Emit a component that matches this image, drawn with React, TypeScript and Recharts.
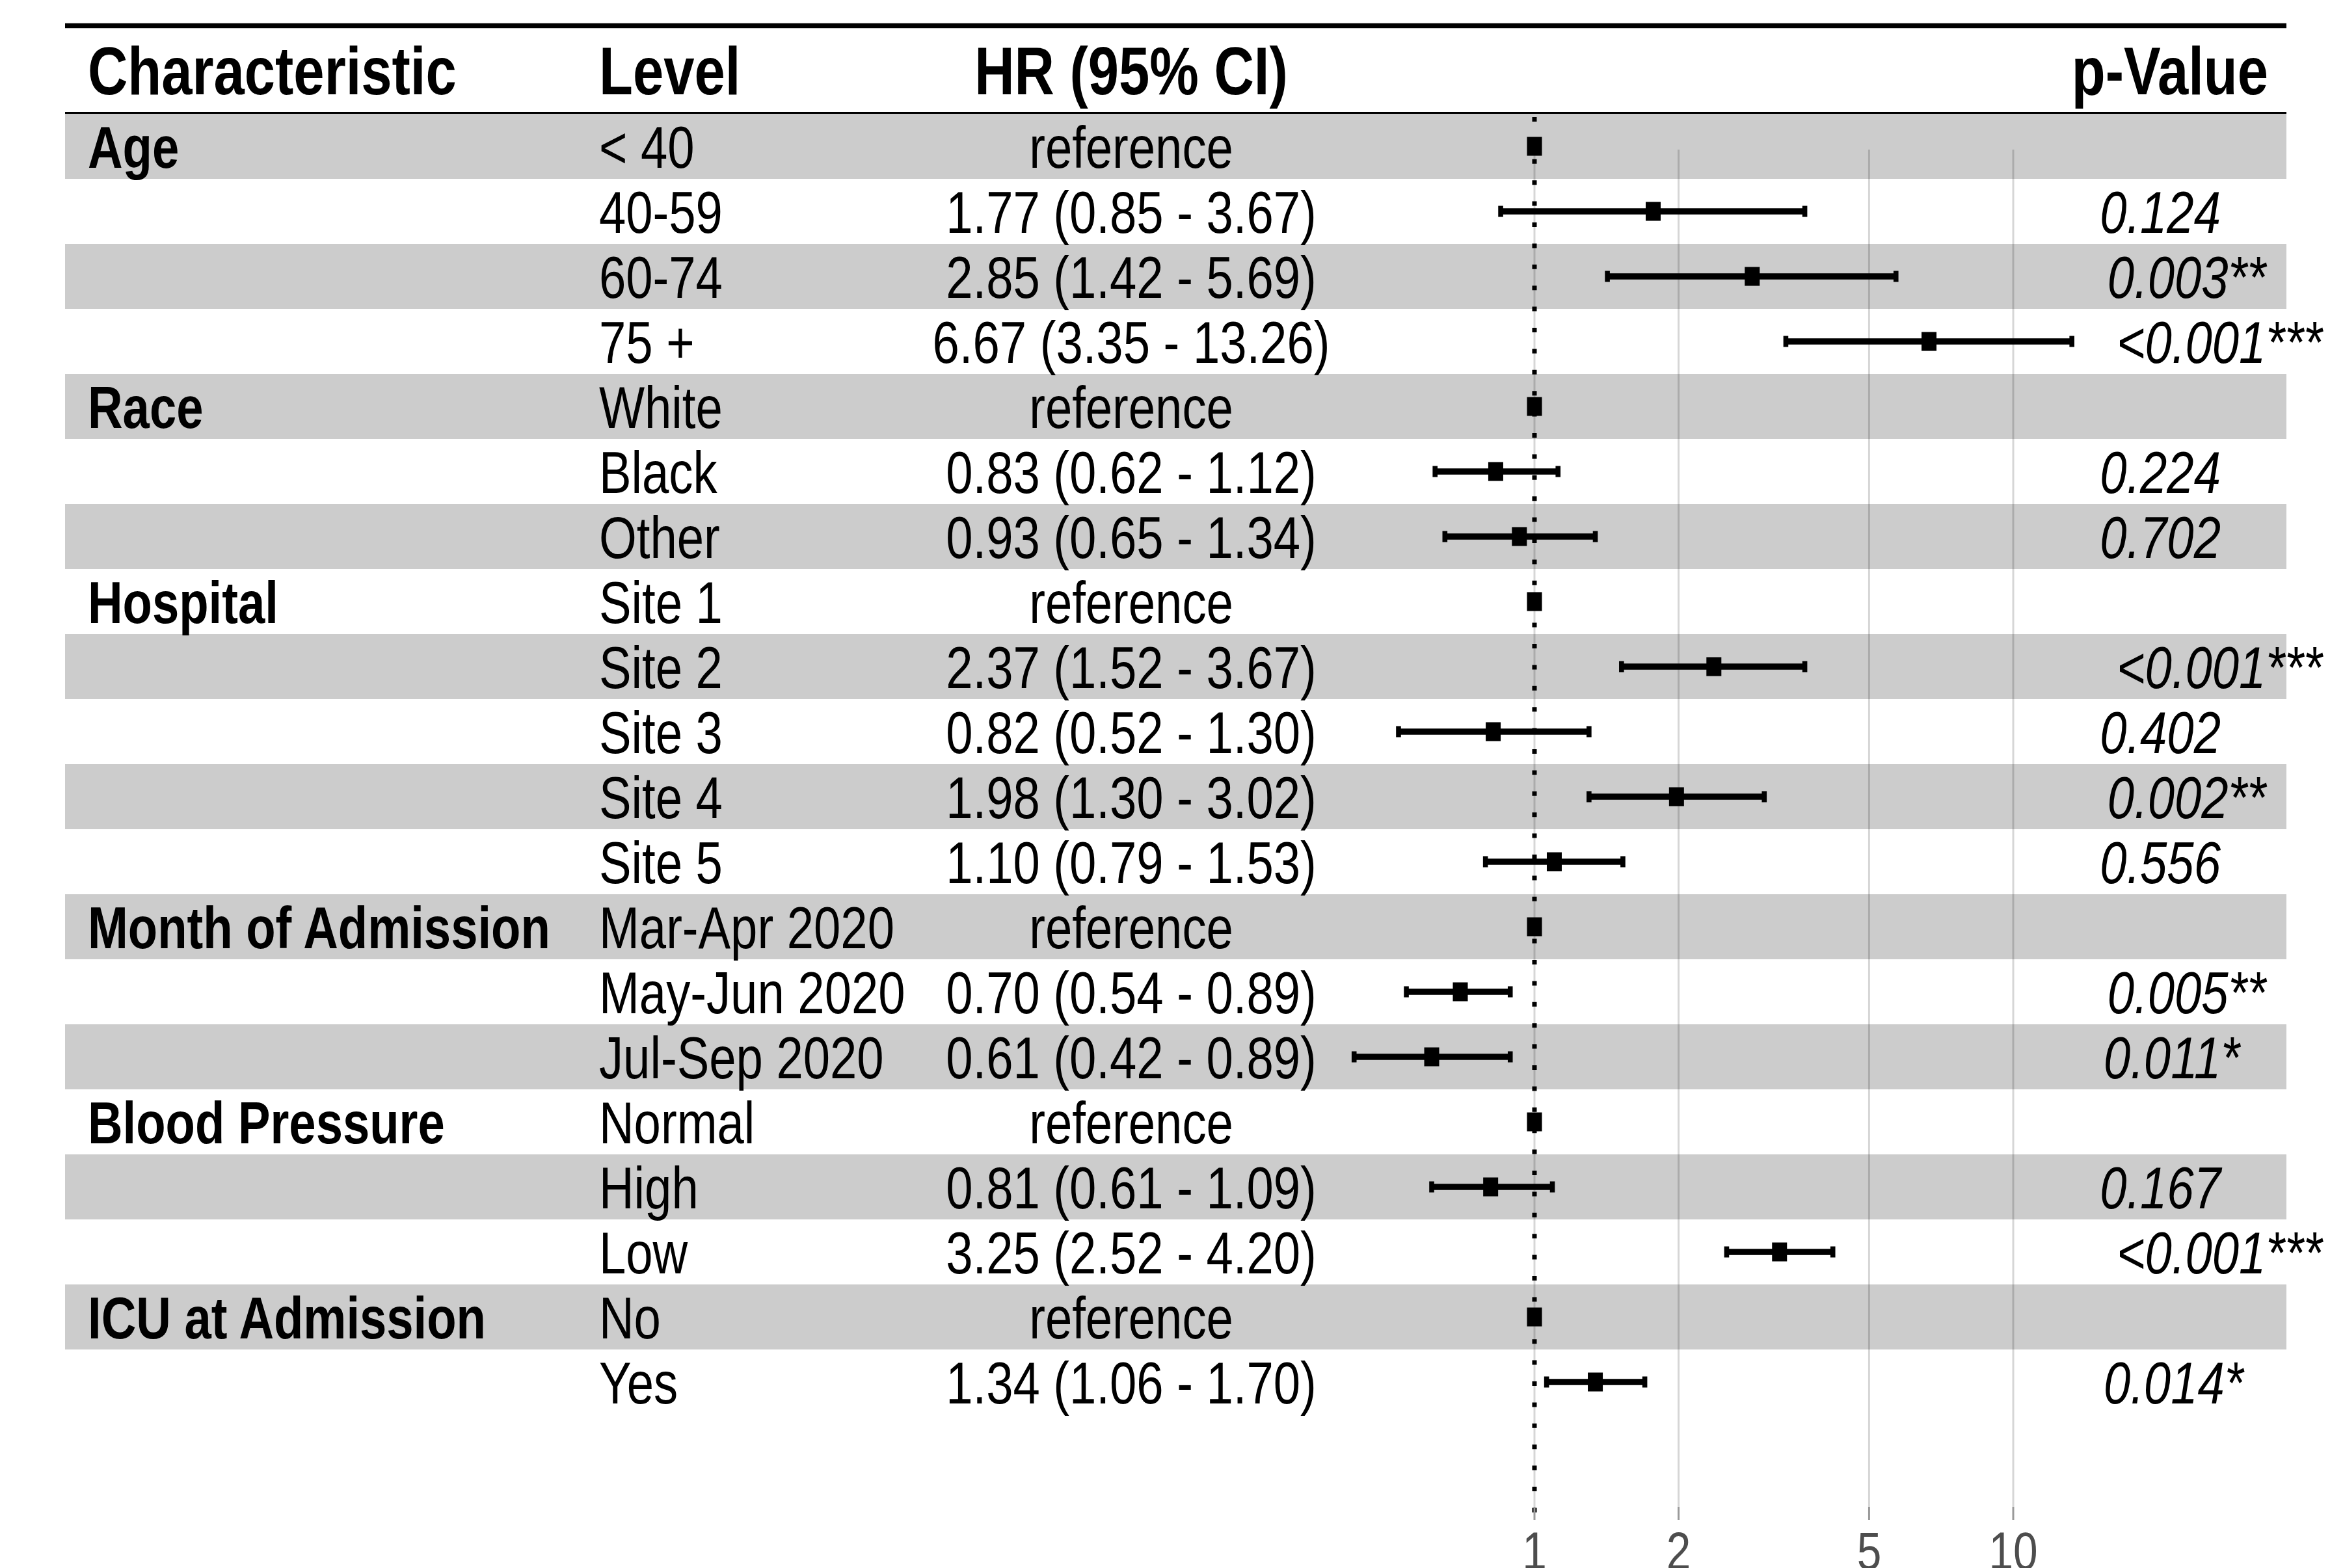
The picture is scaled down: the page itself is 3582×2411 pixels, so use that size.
import React from "react";
import {
  ScatterChart,
  Scatter,
  XAxis,
  YAxis,
  ReferenceArea,
  ReferenceLine,
} from "recharts";

// table rows, top to bottom
const groups = [
  "Age", "", "", "",
  "Race", "", "",
  "Hospital", "", "", "", "",
  "Month of Admission", "", "",
  "Blood Pressure", "", "",
  "ICU at Admission", "",
];
const levels = [
  "< 40", "40-59", "60-74", "75 +",
  "White", "Black", "Other",
  "Site 1", "Site 2", "Site 3", "Site 4", "Site 5",
  "Mar-Apr 2020", "May-Jun 2020", "Jul-Sep 2020",
  "Normal", "High", "Low",
  "No", "Yes",
];
const hazard = [1, 1.77, 2.85, 6.67, 1, 0.83, 0.93, 1, 2.37, 0.82, 1.98, 1.1, 1, 0.7, 0.61, 1, 0.81, 3.25, 1, 1.34];
const lower = [null, 0.85, 1.42, 3.35, null, 0.62, 0.65, null, 1.52, 0.52, 1.3, 0.79, null, 0.54, 0.42, null, 0.61, 2.52, null, 1.06];
const upper = [null, 3.67, 5.69, 13.26, null, 1.12, 1.34, null, 3.67, 1.3, 3.02, 1.53, null, 0.89, 0.89, null, 1.09, 4.2, null, 1.7];
const pValues = [
  "", "0.124", "0.003**", "<0.001***",
  "", "0.224", "0.702",
  "", "<0.001***", "0.402", "0.002**", "0.556",
  "", "0.005**", "0.011*",
  "", "0.167", "<0.001***",
  "", "0.014*",
];
const axisTicks = [1, 2, 5, 10];
const headers = ["Characteristic", "Level", "HR (95% CI)", "p-Value"];

// layout (px)
const W = 3582;
const H = 2411;
const PLOT_LEFT = 100;
const PLOT_RIGHT = 3515;
const X_ONE = 2359;
const PX_DECADE = 736;
const X_MIN = Math.pow(10, (PLOT_LEFT - X_ONE) / PX_DECADE);
const X_MAX = Math.pow(10, (PLOT_RIGHT - X_ONE) / PX_DECADE);
const SX = 0.825; // narrow font look
const FONT = "'Liberation Sans', Arial, sans-serif";
const BODY = 90;
const HEAD = 103;

const rowIds = levels.map((_, i) => i + 1);

const estimates = rowIds
  .filter((r) => lower[r - 1] != null)
  .map((r) => ({ row: r, hr: hazard[r - 1] }));
const refs = rowIds
  .filter((r) => lower[r - 1] == null)
  .map((r) => ({ row: r, hr: hazard[r - 1] }));
// one two-point series per confidence interval
const intervals = rowIds
  .filter((r) => lower[r - 1] != null)
  .map((r) => [
    { row: r, hr: lower[r - 1] as number },
    { row: r, hr: upper[r - 1] as number },
  ]);

function hrText(i: number) {
  if (lower[i] == null) return "reference";
  return `${hazard[i].toFixed(2)} (${(lower[i] as number).toFixed(2)} - ${(upper[i] as number).toFixed(2)})`;
}

const charW: Record<string, number> = { ".": 278, "*": 389, "<": 584 };
function pWidth(s: string) {
  let w = 0;
  for (const c of s) w += charW[c] ?? 556;
  return (w / 1000) * BODY * SX;
}

function NText({
  x,
  y,
  anchor = "start",
  size = BODY,
  weight = "normal",
  italic = false,
  fill = "#000",
  children,
}: any) {
  return (
    <text
      transform={`translate(${x},${y}) scale(${SX},1)`}
      textAnchor={anchor}
      fontSize={size}
      fontWeight={weight}
      fontStyle={italic ? "italic" : "normal"}
      fill={fill}
      fontFamily={FONT}
    >
      {children}
    </text>
  );
}

function renderRowTick(props: any) {
  const { y, payload } = props;
  const i = Math.round(payload.value) - 1;
  if (i < 0 || i >= levels.length) return <g />;
  const base = y + 33;
  const p = pValues[i];
  return (
    <g>
      {groups[i] && (
        <NText x={135} y={base} weight="bold">
          {groups[i]}
        </NText>
      )}
      <NText x={921} y={base}>{levels[i]}</NText>
      <NText x={1739} y={base} anchor="middle">
        {hrText(i)}
      </NText>
      {p && (
        <NText x={3191 + 0.2 * pWidth(p)} y={base} italic>
          {p}
        </NText>
      )}
    </g>
  );
}

function renderXTick(props: any) {
  const { x, y, payload } = props;
  return (
    <text
      transform={`translate(${x},${y}) scale(${SX},1)`}
      textAnchor="middle"
      dy="0.71em"
      fontSize={82}
      fill="#4d4d4d"
      fontFamily={FONT}
    >
      {payload.value}
    </text>
  );
}

function renderSquare(props: any) {
  const { cx, cy } = props;
  return <rect x={cx - 11.5} y={cy - 14.5} width={23} height={29} fill="#000" />;
}

function renderCap(props: any) {
  const { cx, cy } = props;
  return <rect x={cx - 3.8} y={cy - 8.5} width={7.6} height={17} fill="#000" />;
}

export default function App() {
  return (
    <div style={{ position: "absolute", left: 0, top: 0, background: "#fff" }}>
      <ScatterChart
        width={W}
        height={H}
        margin={{ top: 175, right: W - PLOT_RIGHT, bottom: 0, left: PLOT_LEFT - 1 }}
      >
        <XAxis
          type="number"
          dataKey="hr"
          scale="log"
          domain={[X_MIN, X_MAX]}
          allowDataOverflow
          ticks={axisTicks}
          interval={0}
          axisLine={false}
          tickLine={{ stroke: "#9a9a9a", strokeWidth: 3 }}
          tickSize={20}
          tickMargin={18}
          height={94}
          tick={renderXTick}
        />
        <YAxis
          type="number"
          dataKey="row"
          domain={[0.5, 21.92]}
          allowDataOverflow
          reversed
          ticks={rowIds}
          interval={0}
          width={1}
          axisLine={false}
          tickLine={false}
          tick={renderRowTick}
        />

        {rowIds
          .filter((r) => r % 2 === 1)
          .map((r) => (
            <ReferenceArea
              key={`band-${r}`}
              y1={r - 0.5}
              y2={r + 0.5}
              fill="#cccccc"
              fillOpacity={1}
              stroke="none"
            />
          ))}

        {axisTicks.map((v) => (
          <ReferenceLine
            key={`grid-${v}`}
            segment={[
              { x: v, y: 1.05 },
              { x: v, y: 21.92 },
            ]}
            stroke="#000"
            strokeOpacity={0.16}
            strokeWidth={3}
          />
        ))}

        <ReferenceLine
          segment={[
            { x: 1, y: 0.55 },
            { x: 1, y: 22.15 },
          ]}
          ifOverflow="visible"
          stroke="#000"
          strokeWidth={7}
          strokeDasharray="7 25.4"
        />

        {intervals.map((ci, k) => (
          <Scatter
            key={`ci-${k}`}
            data={ci}
            line={{ stroke: "#000", strokeWidth: 9.5 }}
            lineType="joint"
            shape={renderCap}
            isAnimationActive={false}
          />
        ))}
        <Scatter data={estimates} shape={renderSquare} isAnimationActive={false} />
        <Scatter data={refs} shape={renderSquare} isAnimationActive={false} />

        <g>
          <line x1={PLOT_LEFT} x2={PLOT_RIGHT} y1={39.5} y2={39.5} stroke="#000" strokeWidth={7.5} />
          <line x1={PLOT_LEFT} x2={PLOT_RIGHT} y1={176} y2={176} stroke="#000" strokeWidth={8} />
          <NText x={135} y={145} size={HEAD} weight="bold">{headers[0]}</NText>
          <NText x={921} y={145} size={HEAD} weight="bold">{headers[1]}</NText>
          <NText x={1739} y={145} size={HEAD} weight="bold" anchor="middle">{headers[2]}</NText>
          <NText x={3487} y={145} size={HEAD} weight="bold" anchor="end">{headers[3]}</NText>
        </g>
      </ScatterChart>
    </div>
  );
}
